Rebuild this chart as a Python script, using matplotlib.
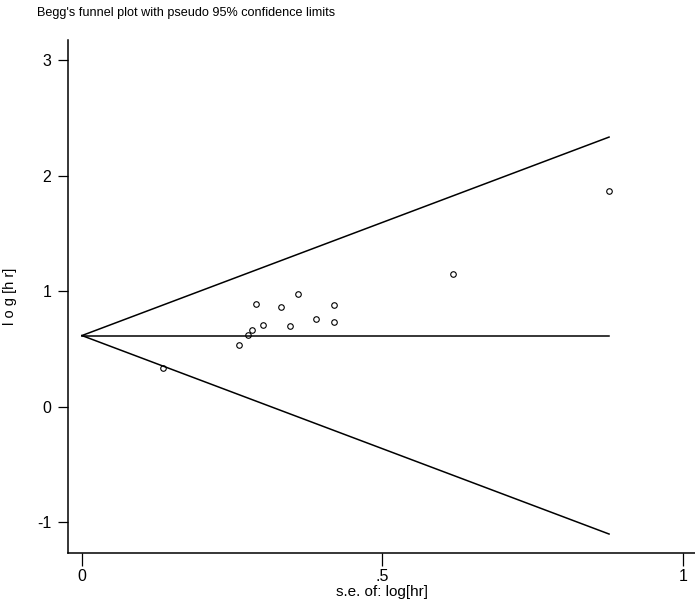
import matplotlib
matplotlib.use("Agg")
import matplotlib.pyplot as plt
import numpy as np

# ---------- Data ----------
se = [0.135, 0.262, 0.276, 0.283, 0.289, 0.301, 0.331, 0.347,
      0.360, 0.390, 0.419, 0.420, 0.617, 0.877]
loghr = [0.338, 0.529, 0.622, 0.665, 0.891, 0.705, 0.859, 0.700,
         0.974, 0.755, 0.731, 0.876, 1.151, 1.865]
pooled = 0.615
x_ticks = [0, 0.5, 1]
x_ticklabels = ["0", ".5", "1"]
y_ticks = [-1, 0, 1, 2, 3]
y_ticklabels = ["-1", "0", "1", "2", "3"]

plt.rcParams['font.family'] = ['Liberation Sans', 'DejaVu Sans']

fig = plt.figure(figsize=(6.95, 6.09), dpi=100)
# axes box: left spine x=68px, bottom spine y=553px, top y=40px
ax = fig.add_axes([0.098, 0.092, 0.902, 0.842])

# funnel: pseudo 95% limits
se_max = max(se)
s = np.array([0, se_max])
ax.plot(s, pooled + 1.96 * s, color='black', lw=1.1)
ax.plot(s, pooled - 1.96 * s, color='black', lw=1.1)
ax.plot(s, [pooled, pooled], color='black', lw=1.1)

ax.plot(se, loghr, 'o', ms=4, mfc='none', mec='black', mew=0.8)

ax.set_xlim(-0.023, 1.02)
ax.set_ylim(-1.268, 3.173)

for side in ('top', 'right'):
    ax.spines[side].set_visible(False)
ax.spines['left'].set_linewidth(1.1)
ax.spines['bottom'].set_linewidth(1.1)

ax.set_xticks(x_ticks)
ax.set_xticklabels(x_ticklabels)
ax.set_yticks(y_ticks)
ax.set_yticklabels(y_ticklabels)
ax.tick_params(axis='y', length=7.2, width=0.9, labelsize=11.5, pad=5)
ax.tick_params(axis='x', length=9.4, width=0.9, labelsize=11.5, pad=2)

ax.set_xlabel("s.e. of: log[hr]", fontsize=11, labelpad=1)
ax.set_ylabel("l o g [h r]", fontsize=10.5, labelpad=14)

fig.text(0.053, 0.978, "Begg's funnel plot with pseudo 95% confidence limits",
         fontsize=9.1, ha='left', va='center')

fig.savefig("out.png", dpi=100)
